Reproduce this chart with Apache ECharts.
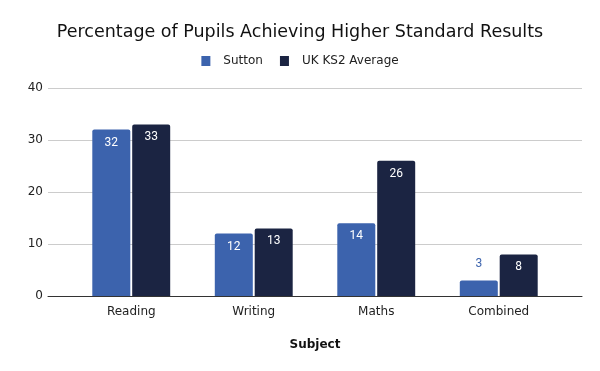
<!DOCTYPE html>
<html><head><meta charset="utf-8">
<script src="https://cdn.jsdelivr.net/npm/echarts@6/dist/echarts.min.js"></script>
<style>html,body{margin:0;padding:0;background:#fff}#c{width:600px;height:371px}</style>
</head><body><div id="c"></div>
<script>
const categories = ['Reading', 'Writing', 'Maths', 'Combined'];
const sutton = [32, 12, 14, 3];
const ukAverage = [33, 13, 26, 8];
const yTicks = [0, 10, 20, 30, 40];

const chart = echarts.init(document.getElementById('c'), null, {renderer: 'canvas'});
const font = '"DejaVu Sans", sans-serif';
const blue = '#3c63ad', navy = '#1b2442';
function lbl() {
  return {show: true, position: 'insideTop', distance: 7, color: '#fff', fontFamily: 'Roboto', fontSize: 12};
}
chart.setOption({
  animation: false,
  title: {text: 'Percentage of Pupils Achieving Higher Standard Results', left: 'center', top: 18,
    textStyle: {fontFamily: font, fontWeight: 'normal', fontSize: 17.5, color: '#111'}},
  legend: {top: 50, left: 'center', itemWidth: 9, itemHeight: 10, itemGap: 17,
    icon: 'rect',
    textStyle: {fontFamily: font, fontSize: 12, color: '#222', padding: [0, 0, 0, 8]},
    data: ['Sutton', 'UK KS2 Average']},
  grid: [
    {left: 70, right: 40, top: 88, bottom: 75, containLabel: false},
    {left: 48, right: 18, top: 88, bottom: 75, containLabel: false}
  ],
  xAxis: [
    {type: 'category', gridIndex: 0, data: categories,
     axisLine: {show: false}, axisTick: {show: false},
     axisLabel: {fontFamily: font, fontSize: 12, color: '#222', margin: 10}},
    {type: 'category', gridIndex: 1, data: categories,
     axisLine: {show: true, lineStyle: {color: '#333', width: 1}}, axisTick: {show: false},
     axisLabel: {show: false},
     name: 'Subject', nameLocation: 'middle', nameGap: 43,
     nameTextStyle: {fontFamily: font, fontWeight: 'bold', fontSize: 12, color: '#111'}}
  ],
  yAxis: [
    {type: 'value', gridIndex: 0, min: 0, max: 40, interval: 10,
     axisLabel: {show: false}, splitLine: {show: false}, axisLine: {show: false}},
    {type: 'value', gridIndex: 1, min: yTicks[0], max: yTicks[yTicks.length - 1], interval: 10,
     axisLine: {show: false}, axisTick: {show: false},
     axisLabel: {fontFamily: font, fontSize: 12, color: '#222', margin: 5},
     splitLine: {lineStyle: {color: '#cccccc', width: 1}}}
  ],
  series: [
    {name: 'Sutton', type: 'bar', xAxisIndex: 0, yAxisIndex: 0, barWidth: 38, barGap: '5%',
     itemStyle: {color: blue, borderRadius: [2, 2, 0, 0]},
     label: lbl(),
     data: sutton.map(v => v < 5 ? {value: v, label: {position: 'top', distance: 10, color: blue}} : v)},
    {name: 'UK KS2 Average', type: 'bar', xAxisIndex: 0, yAxisIndex: 0, barWidth: 38, barGap: '5%',
     itemStyle: {color: navy, borderRadius: [2, 2, 0, 0]},
     label: lbl(),
     data: ukAverage}
  ]
});
</script></body></html>
